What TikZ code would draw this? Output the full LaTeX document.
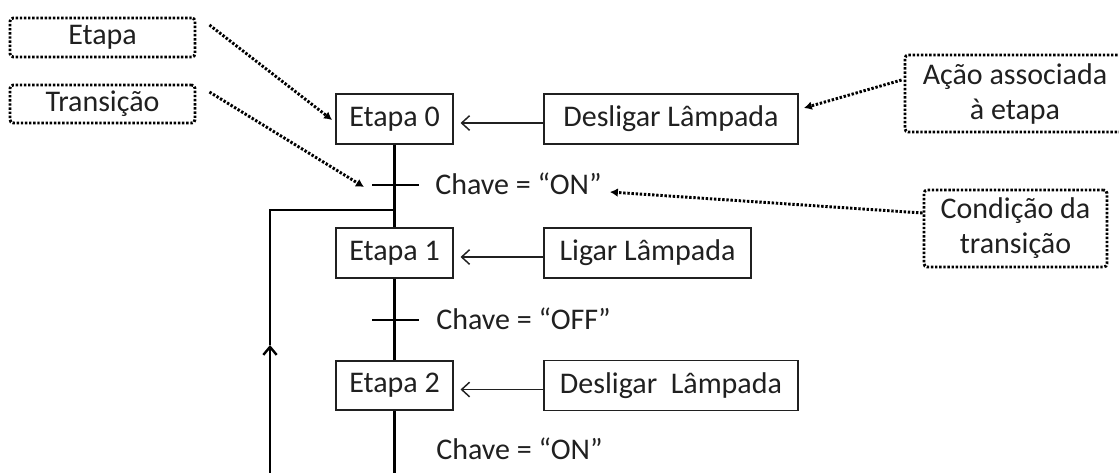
\documentclass[tikz,border=0pt]{standalone}
\usepackage{fontspec}
\setmainfont{Carlito}
\usetikzlibrary{arrows.meta,calc}
\definecolor{ink}{RGB}{32,32,32}
\begin{document}
\begin{tikzpicture}[x=0.75pt,y=-0.75pt,
  every node/.style={font=\fontsize{22.5}{26.25}\selectfont, text=ink, inner sep=0pt},
  stepbox/.style={draw=ink, line width=1.3pt, minimum width=87.75pt, minimum height=37pt},
  actbox/.style={draw=ink, line width=1.3pt, minimum height=37.5pt},
  notebox/.style={draw=black, line width=2.2pt, dash pattern=on 1.8pt off 1.3pt,
    rounded corners=2.5pt, align=center},
  flow/.style={draw=black, line width=1.8pt},
  actarrow/.style={draw=ink, line width=1.1pt, -{Straight Barb[length=6pt,width=11pt]}},
  notearrow/.style={draw=black, line width=2.2pt, dash pattern=on 1.8pt off 1.3pt,
    -{Latex[length=6pt,width=6.5pt]}}]
\useasboundingbox (0,0) rectangle (1119,472);
\clip (0,0) rectangle (1119,472);

% steps
\node[stepbox] (e0) at (394.5,119) {Etapa 0};
\node[stepbox] (e1) at (394.5,253) {Etapa 1};
\node[stepbox] (e2) at (394.5,385.5) {Etapa 2};

% actions
\node[actbox, minimum width=190.5pt] (a0) at (671,119) {Desligar Lâmpada};
\node[actbox, minimum width=155.25pt] (a1) at (647.5,253) {Ligar Lâmpada};
\node[actbox, minimum width=190.5pt] (a2) at (671,385.5) {Desligar~~Lâmpada};

% transition conditions
\node[anchor=base west] (c0) at (435,194) {Chave = “ON”};
\node[anchor=base west] (c1) at (436,329) {Chave = “OFF”};
\node[anchor=base west] (c2) at (436,459) {Chave = “ON”};

% explanatory notes
\node[notebox, minimum width=138.75pt, minimum height=29.25pt] (nEtapa) at (102.5,37.5) {Etapa};
\node[notebox, minimum width=138.75pt, minimum height=28.5pt] (nTrans) at (102.5,104) {Transição};
\node[notebox, minimum width=165pt, minimum height=57.75pt] (nAcao) at (1015,93.5) {Ação associada\\à etapa};
\node[notebox, minimum width=137.25pt, minimum height=57.75pt] (nCond) at (1015.5,228.5) {Condição da\\transição};

% transition bars and loop points
\coordinate (t0L) at (372,185);
\coordinate (t0R) at (419,185);
\coordinate (t1L) at (372,320);
\coordinate (t1R) at (419,320);
\coordinate (join) at (394.5,210);
\coordinate (corner) at (270,210);
\coordinate (loopTip) at (270,345);
\coordinate (loopStart) at (270,480);
\coordinate (mainEnd) at (394.5,480);

% main sequence
\draw[flow] (e0.south) -- (e1.north);
\draw[flow] (e1.south) -- (e2.north);
\draw[flow] (e2.south) -- (mainEnd);
\draw[flow] (t0L) -- (t0R);
\draw[flow] (t1L) -- (t1R);

% return loop
\draw[flow, -{Straight Barb[length=6pt,width=10pt]}] (loopStart) -- (loopTip);
\draw[flow] (loopTip) -- (corner) -- (join);

% action links
\draw[actarrow] ([yshift=-3pt]a0.west) -- ([xshift=5pt,yshift=-3pt]e0.east);
\draw[actarrow] ([yshift=-3pt]a1.west) -- ([xshift=5pt,yshift=-3pt]e1.east);
\draw[actarrow] ([yshift=-3pt]a2.west) -- ([xshift=5pt,yshift=-3pt]e2.east);

% note pointers
\draw[notearrow] ($(nEtapa.east)+(13,-12.5)$) -- ($(e0.west)+(-3,1)$);
\draw[notearrow] ($(nTrans.east)+(13,-12)$) -- ($(t0L)+(-8,2)$);
\draw[notearrow] ($(nAcao.west)+(-2,-13.5)$) -- ($(a0.east)+(5,-11)$);
\draw[notearrow] ($(nCond.west)+(0,-15.5)$) -- ($(c0.base east)+(8,-2)$);
\end{tikzpicture}
\end{document}
